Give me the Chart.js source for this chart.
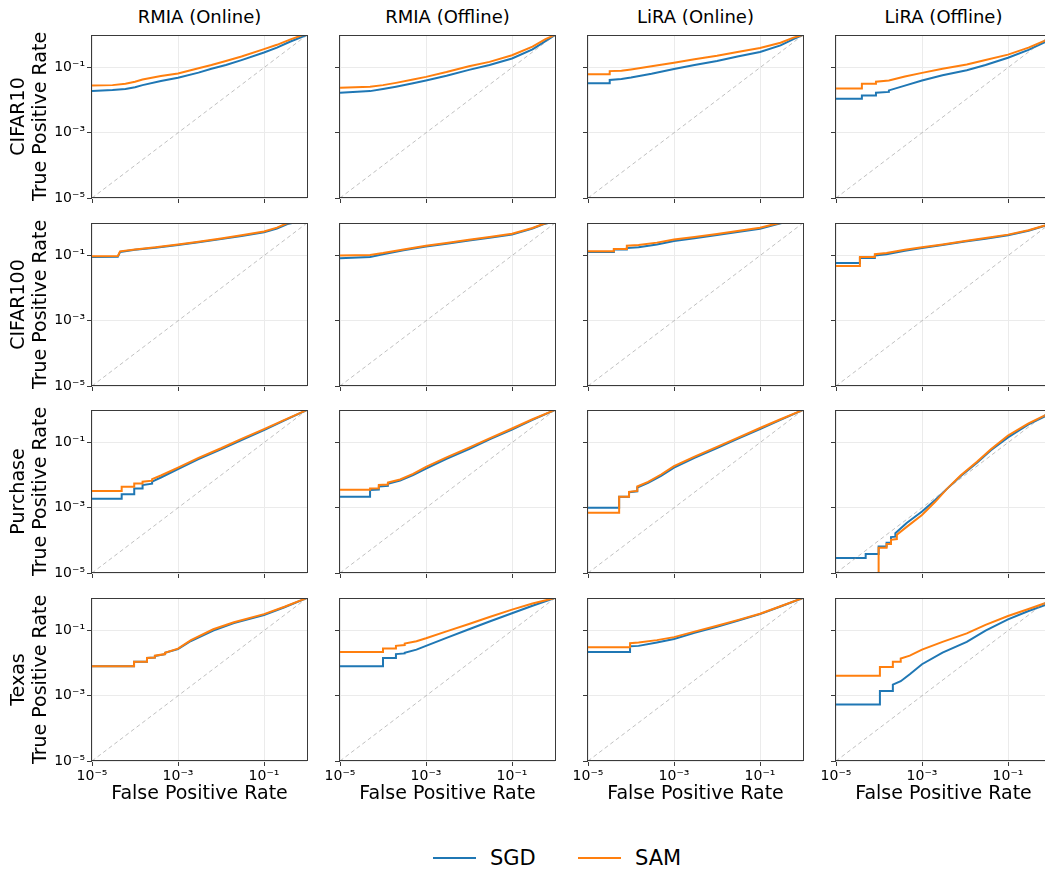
<!DOCTYPE html>
<html>
<head>
<meta charset="utf-8">
<script src="https://cdn.jsdelivr.net/npm/chart.js"></script>
<style>
  html, body { margin: 0; padding: 0; background: #fff; width: 1045px; height: 872px; overflow: hidden; }
  body { position: relative; font-family: "DejaVu Sans", sans-serif; color: #000; }
  canvas { position: absolute; }
  .coltitle { position: absolute; top: 5px; width: 215px; text-align: center; font-size: 18px; line-height: 24px; }
  .legend { position: absolute; top: 845px; font-size: 21px; line-height: 26px; }
  .swatch { position: absolute; height: 2px; }
</style>
</head>
<body>
<script>
const attacks = ['RMIA (Online)', 'RMIA (Offline)', 'LiRA (Online)', 'LiRA (Offline)'];
const datasetNames = ['CIFAR10', 'CIFAR100', 'Purchase', 'Texas'];
const tickValues = [1e-5, 1e-3, 1e-1];
const tickLabels = ['10⁻⁵', '10⁻³', '10⁻¹'];

// [fpr, tpr] points, one list per attack column
const cifar10Sgd = [
  [[1e-5,0.019],[3e-5,0.0205],[6e-5,0.022],[1e-4,0.025],[1.5e-4,0.029],[4e-4,0.039],[1e-3,0.049],[3e-3,0.07],[6e-3,0.092],[1.3e-2,0.12],[3e-2,0.17],[0.1,0.29],[0.2,0.41],[0.4,0.62],[0.7,0.84],[1,1]],
  [[1e-5,0.017],[5e-5,0.019],[1e-4,0.022],[2e-4,0.026],[5e-4,0.033],[1e-3,0.04],[3e-3,0.056],[1e-2,0.085],[3e-2,0.12],[0.1,0.19],[0.3,0.36],[0.6,0.65],[1,1]],
  [[1e-5,0.033],[3.2e-5,0.033],[3.2e-5,0.042],[6e-5,0.045],[1e-4,0.05],[3e-4,0.065],[1e-3,0.09],[3e-3,0.12],[1e-2,0.16],[3e-2,0.22],[0.1,0.3],[0.3,0.48],[0.6,0.75],[1,1]],
  [[1e-5,0.011],[4e-5,0.011],[4e-5,0.014],[8.5e-5,0.014],[8.5e-5,0.017],[1.7e-4,0.018],[1.7e-4,0.02],[4e-4,0.028],[1e-3,0.04],[3e-3,0.058],[1.1e-2,0.083],[3e-2,0.12],[0.1,0.2],[0.3,0.35],[0.72,0.6],[1,1]]
];
const cifar10Sam = [
  [[1e-5,0.028],[3e-5,0.029],[6e-5,0.032],[1e-4,0.037],[1.5e-4,0.043],[4e-4,0.055],[1e-3,0.066],[3e-3,0.095],[6e-3,0.12],[1.3e-2,0.16],[3e-2,0.22],[0.1,0.37],[0.2,0.5],[0.4,0.72],[0.7,0.94],[0.8,1],[1,1]],
  [[1e-5,0.024],[5e-5,0.026],[1e-4,0.029],[2e-4,0.034],[5e-4,0.043],[1e-3,0.052],[3e-3,0.073],[1e-2,0.11],[3e-2,0.15],[0.1,0.24],[0.3,0.44],[0.6,0.75],[1,1]],
  [[1e-5,0.062],[3.2e-5,0.062],[3.2e-5,0.078],[6e-5,0.08],[1e-4,0.088],[3e-4,0.11],[1e-3,0.14],[3e-3,0.18],[1e-2,0.23],[3e-2,0.3],[0.1,0.4],[0.3,0.58],[0.6,0.83],[1,1]],
  [[1e-5,0.023],[4e-5,0.023],[4e-5,0.032],[8.5e-5,0.032],[8.5e-5,0.037],[1.7e-4,0.04],[4e-4,0.053],[1e-3,0.069],[3e-3,0.092],[1.1e-2,0.125],[3e-2,0.17],[0.1,0.25],[0.3,0.41],[0.72,0.67],[1,1]]
];
const cifar100Sgd = [
  [[1e-5,0.09],[4e-5,0.092],[4.5e-5,0.13],[1e-4,0.15],[3e-4,0.175],[1e-3,0.21],[3e-3,0.255],[1e-2,0.32],[3e-2,0.4],[0.1,0.52],[0.2,0.68],[0.35,0.93],[0.45,1],[1,1]],
  [[1e-5,0.083],[5e-5,0.09],[1e-4,0.11],[3e-4,0.145],[1e-3,0.19],[3e-3,0.23],[1e-2,0.29],[3e-2,0.35],[0.1,0.44],[0.3,0.68],[0.55,0.93],[0.7,1],[1,1]],
  [[1e-5,0.13],[4e-5,0.13],[4e-5,0.155],[8e-5,0.155],[8e-5,0.17],[1.5e-4,0.18],[4e-4,0.22],[1e-3,0.28],[3e-3,0.34],[1e-2,0.43],[3e-2,0.53],[0.1,0.67],[0.2,0.85],[0.32,1],[1,1]],
  [[1e-5,0.059],[3.6e-5,0.059],[3.6e-5,0.085],[8e-5,0.085],[8e-5,0.1],[1.5e-4,0.11],[4e-4,0.14],[1e-3,0.17],[3e-3,0.21],[1e-2,0.27],[3e-2,0.33],[0.1,0.42],[0.3,0.58],[0.72,0.82],[1,1]]
];
const cifar100Sam = [
  [[1e-5,0.095],[4e-5,0.097],[4.5e-5,0.135],[1e-4,0.155],[3e-4,0.18],[1e-3,0.22],[3e-3,0.265],[1e-2,0.335],[3e-2,0.42],[0.1,0.55],[0.2,0.72],[0.33,0.96],[0.4,1],[1,1]],
  [[1e-5,0.1],[5e-5,0.105],[1e-4,0.12],[3e-4,0.155],[1e-3,0.2],[3e-3,0.245],[1e-2,0.305],[3e-2,0.37],[0.1,0.47],[0.3,0.7],[0.55,0.95],[0.65,1],[1,1]],
  [[1e-5,0.135],[4e-5,0.135],[4e-5,0.16],[8e-5,0.16],[8e-5,0.2],[1.5e-4,0.21],[4e-4,0.25],[1e-3,0.31],[3e-3,0.37],[1e-2,0.46],[3e-2,0.57],[0.1,0.72],[0.2,0.9],[0.3,1],[1,1]],
  [[1e-5,0.048],[3.6e-5,0.048],[3.6e-5,0.09],[8e-5,0.09],[8e-5,0.11],[1.5e-4,0.12],[4e-4,0.15],[1e-3,0.18],[3e-3,0.22],[1e-2,0.28],[3e-2,0.345],[0.1,0.44],[0.3,0.6],[0.72,0.84],[1,1]]
];
const purchaseSgd = [
  [[1e-5,0.0019],[4.9e-5,0.0019],[4.9e-5,0.0026],[9.6e-5,0.0026],[9.6e-5,0.0039],[1.5e-4,0.0039],[1.5e-4,0.005],[2.5e-4,0.0055],[2.5e-4,0.0064],[4e-4,0.0085],[1e-3,0.0155],[3e-3,0.031],[1e-2,0.062],[3e-2,0.12],[0.1,0.24],[0.3,0.48],[1,1]],
  [[1e-5,0.0022],[5e-5,0.0022],[5e-5,0.0035],[8e-5,0.0036],[8e-5,0.0045],[1.3e-4,0.0047],[1.3e-4,0.0055],[2.5e-4,0.0068],[5e-4,0.01],[1e-3,0.016],[3e-3,0.032],[1e-2,0.063],[3e-2,0.125],[0.1,0.25],[0.3,0.5],[1,1]],
  [[1e-5,0.001],[5.3e-5,0.001],[5.3e-5,0.0022],[9e-5,0.0022],[9e-5,0.003],[1.4e-4,0.0032],[1.4e-4,0.0042],[2.5e-4,0.0058],[5e-4,0.0095],[1e-3,0.017],[3e-3,0.034],[1e-2,0.068],[3e-2,0.13],[0.1,0.26],[0.3,0.5],[1,1]],
  [[1e-5,2.9e-5],[4.9e-5,2.9e-5],[4.9e-5,3.8e-5],[9.8e-5,3.8e-5],[9.8e-5,6.5e-5],[1.5e-4,6.5e-5],[1.5e-4,8.5e-5],[1.9e-4,8.5e-5],[1.9e-4,1.26e-4],[2.4e-4,1.3e-4],[2.4e-4,1.66e-4],[4.4e-4,3.4e-4],[1e-3,7.7e-4],[2e-3,1.7e-3],[3.8e-3,3.8e-3],[8e-3,9.5e-3],[1.9e-2,0.024],[4e-2,0.058],[0.1,0.145],[0.3,0.36],[0.72,0.64],[1,1]]
];
const purchaseSam = [
  [[1e-5,0.0033],[4.9e-5,0.0033],[4.9e-5,0.0044],[9.6e-5,0.0044],[9.6e-5,0.0056],[1.5e-4,0.0056],[1.5e-4,0.0063],[2.5e-4,0.0068],[2.5e-4,0.0076],[4e-4,0.0098],[1e-3,0.017],[3e-3,0.034],[1e-2,0.067],[3e-2,0.13],[0.1,0.26],[0.3,0.5],[1,1]],
  [[1e-5,0.0036],[5e-5,0.0036],[5e-5,0.0039],[8e-5,0.004],[8e-5,0.005],[1.3e-4,0.0052],[1.3e-4,0.006],[2.5e-4,0.0074],[5e-4,0.011],[1e-3,0.018],[3e-3,0.035],[1e-2,0.07],[3e-2,0.135],[0.1,0.27],[0.3,0.52],[1,1]],
  [[1e-5,0.0007],[5.3e-5,0.0007],[5.3e-5,0.0022],[9e-5,0.0022],[9e-5,0.0031],[1.4e-4,0.0033],[1.4e-4,0.0045],[2.5e-4,0.0062],[5e-4,0.0105],[1e-3,0.019],[3e-3,0.037],[1e-2,0.074],[3e-2,0.14],[0.1,0.28],[0.3,0.52],[1,1]],
  [[4.9e-5,1e-5],[9.8e-5,1e-5],[9.8e-5,6e-5],[1.5e-4,6e-5],[1.5e-4,7.8e-5],[1.9e-4,7.8e-5],[1.9e-4,1.04e-4],[2.6e-4,1.1e-4],[2.6e-4,1.5e-4],[4.4e-4,2.6e-4],[1e-3,6e-4],[2e-3,1.5e-3],[3.8e-3,3.8e-3],[8e-3,1e-2],[1.9e-2,0.026],[4e-2,0.063],[0.1,0.165],[0.3,0.39],[0.72,0.68],[1,1]]
];
const texasSgd = [
  [[1e-5,0.0081],[9.5e-5,0.0081],[9.5e-5,0.011],[1.9e-4,0.011],[1.9e-4,0.0145],[2.9e-4,0.015],[2.9e-4,0.0165],[5e-4,0.019],[5e-4,0.021],[1e-3,0.027],[2e-3,0.048],[6.6e-3,0.1],[2e-2,0.17],[0.1,0.3],[0.3,0.52],[1,1]],
  [[1e-5,0.0081],[1e-4,0.0081],[1e-4,0.0145],[2e-4,0.0145],[2e-4,0.019],[3.2e-4,0.02],[3.2e-4,0.021],[6e-4,0.026],[1e-3,0.034],[3e-3,0.06],[1e-2,0.11],[3e-2,0.19],[0.1,0.34],[0.3,0.58],[1,1]],
  [[1e-5,0.022],[9.5e-5,0.022],[9.5e-5,0.033],[1.5e-4,0.034],[4e-4,0.043],[1e-3,0.055],[3e-3,0.085],[1e-2,0.13],[3e-2,0.2],[0.1,0.32],[0.3,0.55],[1,1]],
  [[1e-5,5.4e-4],[1.05e-4,5.4e-4],[1.05e-4,0.0014],[2.1e-4,0.0014],[2.1e-4,0.0022],[3.2e-4,0.0028],[5.2e-4,0.0046],[1e-3,0.0093],[3e-3,0.021],[1.1e-2,0.045],[3e-2,0.1],[0.1,0.22],[0.3,0.4],[0.72,0.6],[1,1]]
];
const texasSam = [
  [[1e-5,0.0081],[9.5e-5,0.0081],[9.5e-5,0.011],[1.9e-4,0.011],[1.9e-4,0.0145],[2.9e-4,0.015],[2.9e-4,0.017],[5e-4,0.019],[5e-4,0.021],[1e-3,0.028],[2e-3,0.051],[6.6e-3,0.11],[2e-2,0.18],[0.1,0.32],[0.3,0.54],[1,1]],
  [[1e-5,0.022],[1e-4,0.022],[1e-4,0.028],[2e-4,0.028],[2e-4,0.034],[3.2e-4,0.036],[3.2e-4,0.04],[6e-4,0.047],[1e-3,0.058],[3e-3,0.095],[1e-2,0.16],[3e-2,0.26],[0.1,0.44],[0.3,0.68],[1,1]],
  [[1e-5,0.031],[9.5e-5,0.031],[9.5e-5,0.041],[1.5e-4,0.043],[4e-4,0.051],[1e-3,0.063],[3e-3,0.093],[1e-2,0.14],[3e-2,0.21],[0.1,0.33],[0.3,0.56],[1,1]],
  [[1e-5,0.0041],[1.05e-4,0.0041],[1.05e-4,0.0077],[2.1e-4,0.0077],[2.1e-4,0.011],[3.2e-4,0.011],[3.2e-4,0.014],[5.2e-4,0.017],[1e-3,0.026],[3e-3,0.045],[1.1e-2,0.082],[3e-2,0.15],[0.1,0.28],[0.3,0.46],[0.72,0.69],[1,1]]
];

const sgdRows = [cifar10Sgd, cifar100Sgd, purchaseSgd, texasSgd];
const samRows = [cifar10Sam, cifar100Sam, purchaseSam, texasSam];

const SGD_COLOR = '#1f77b4';
const SAM_COLOR = '#ff7f0e';
const FRAME = '#3a3a3a';
const colLeft = [92, 340, 588, 836];
const rowTop = [35, 223, 410, 598];
const PLOT_W = 215, PLOT_H = 163;
const MT = 4, MR = 4;
const FONT = '"DejaVu Sans", sans-serif';

// draw all four spines like matplotlib
const framePlugin = {
  id: 'frame',
  afterDatasetsDraw(chart) {
    const a = chart.chartArea;
    const ctx = chart.ctx;
    ctx.save();
    ctx.strokeStyle = FRAME;
    ctx.lineWidth = 1;
    ctx.strokeRect(Math.round(a.left) - 0.5, Math.round(a.top) + 0.5,
      Math.round(a.right - a.left) + 1, Math.round(a.bottom - a.top) - 1);
    ctx.restore();
  }
};

const toXY = pts => pts.map(p => ({x: p[0], y: p[1]}));

function logAxis(showLabels, title, fixedSize, horizontal) {
  return {
    type: 'logarithmic',
    min: 1e-5,
    max: 1,
    afterBuildTicks: s => { s.ticks = tickValues.map(v => ({value: v})); },
    afterFit: s => {
      if (horizontal) s.height = fixedSize; else s.width = fixedSize;
      s.paddingTop = 0; s.paddingBottom = 0; s.paddingLeft = 0; s.paddingRight = 0;
    },
    ticks: {
      display: showLabels,
      autoSkip: false,
      maxRotation: 0,
      padding: 2,
      color: '#000',
      font: {family: FONT, size: 14},
      callback: (v, i) => tickLabels[i]
    },
    grid: { color: '#ebebeb', lineWidth: 1, tickColor: FRAME, tickLength: 5, drawTicks: true },
    border: { display: false },
    title: title
  };
}

for (let r = 0; r < 4; r++) {
  for (let c = 0; c < 4; c++) {
    const ml = c === 0 ? 92 : 20;
    const mb = r === 3 ? 52 : 10;
    const canvas = document.createElement('canvas');
    canvas.width = PLOT_W + ml + MR;
    canvas.height = PLOT_H + MT + mb;
    canvas.style.left = (colLeft[c] - ml) + 'px';
    canvas.style.top = (rowTop[r] - MT) + 'px';
    canvas.style.width = canvas.width + 'px';
    canvas.style.height = canvas.height + 'px';
    document.body.appendChild(canvas);

    const yTitle = c === 0
      ? { display: true, text: [datasetNames[r], 'True Positive Rate'], color: '#000',
          font: {family: FONT, size: 19, lineHeight: 1.15}, padding: {top: 8, bottom: 0} }
      : { display: false };
    const xTitle = r === 3
      ? { display: true, text: 'False Positive Rate', color: '#000',
          font: {family: FONT, size: 19}, padding: {top: 0, bottom: 8} }
      : { display: false };

    new Chart(canvas, {
      type: 'line',
      data: {
        datasets: [
          { label: 'diagonal', data: toXY([[1e-5, 1e-5], [1, 1]]), borderColor: 'rgba(140,140,140,0.55)',
            borderWidth: 1, borderDash: [4, 3], pointRadius: 0, order: 0 },
          { label: 'SAM', data: toXY(samRows[r][c]), borderColor: SAM_COLOR, borderWidth: 2,
            pointRadius: 0, tension: 0, order: 1 },
          { label: 'SGD', data: toXY(sgdRows[r][c]), borderColor: SGD_COLOR, borderWidth: 2,
            pointRadius: 0, tension: 0, order: 2 }
        ]
      },
      options: {
        responsive: false,
        animation: false,
        devicePixelRatio: 1,
        layout: { padding: {top: MT, right: MR, left: 0, bottom: 0} },
        plugins: { legend: {display: false}, tooltip: {enabled: false}, title: {display: false} },
        scales: {
          x: logAxis(r === 3, xTitle, mb, true),
          y: logAxis(c === 0, yTitle, ml, false)
        }
      },
      plugins: [framePlugin]
    });
  }
}

attacks.forEach((name, c) => {
  const d = document.createElement('div');
  d.className = 'coltitle';
  d.style.left = colLeft[c] + 'px';
  d.textContent = name;
  document.body.appendChild(d);
});

const legendItems = [
  {label: 'SGD', color: SGD_COLOR, line: 433, text: 490},
  {label: 'SAM', color: SAM_COLOR, line: 578, text: 635}
];
legendItems.forEach(it => {
  const s = document.createElement('div');
  s.className = 'swatch';
  s.style.left = it.line + 'px';
  s.style.top = '857px';
  s.style.width = '43px';
  s.style.background = it.color;
  document.body.appendChild(s);
  const t = document.createElement('div');
  t.className = 'legend';
  t.style.left = it.text + 'px';
  t.textContent = it.label;
  document.body.appendChild(t);
});
</script>
</body>
</html>
